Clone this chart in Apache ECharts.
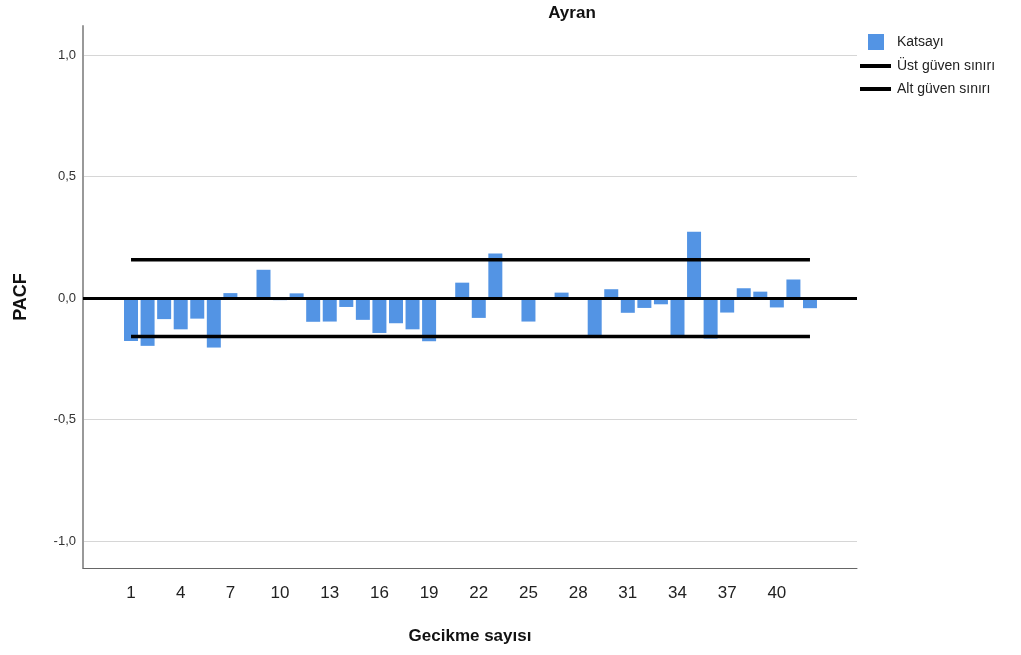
<!DOCTYPE html>
<html>
<head>
<meta charset="utf-8">
<title>Ayran</title>
<script src="https://cdn.jsdelivr.net/npm/echarts@6/dist/echarts.min.js"></script>
<style>
  html, body { margin: 0; padding: 0; background: #ffffff; }
  #chart { width: 1021px; height: 655px; }
</style>
</head>
<body>
<div id="chart"></div>
<script>
// Lag numbers (Gecikme sayısı)
const lags = [1,2,3,4,5,6,7,8,9,10,11,12,13,14,15,16,17,18,19,20,21,22,23,24,25,26,27,28,29,30,31,32,33,34,35,36,37,38,39,40,41,42];
// Partial autocorrelation coefficients (Katsayı)
const pacf = [-0.176,-0.196,-0.086,-0.128,-0.084,-0.203,0.021,0.003,0.117,-0.008,0.020,-0.097,-0.096,-0.036,-0.089,-0.143,-0.103,-0.128,-0.177,0.002,0.064,-0.081,0.184,0.003,-0.096,0.002,0.023,-0.003,-0.158,0.037,-0.060,-0.040,-0.025,-0.162,0.273,-0.166,-0.059,0.041,0.027,-0.038,0.077,-0.041];
// Confidence limits
const upperLimit = 0.158;
const lowerLimit = -0.158;
// Axis tick labels
const xTickValues = [1,4,7,10,13,16,19,22,25,28,31,34,37,40];
const yTickValues = [-1.0,-0.5,0.0,0.5,1.0];

const chart = echarts.init(document.getElementById('chart'));
const firstLag = lags[0];
const lastLag = lags[lags.length - 1];

chart.setOption({
  animation: false,
  backgroundColor: '#ffffff',
  textStyle: { fontFamily: 'Liberation Sans, Arial, sans-serif' },
  title: {
    text: 'Ayran',
    left: 567,
    top: 0,
    textAlign: 'center',
    textStyle: { fontSize: 17, fontWeight: 'bold', color: '#111', fontFamily: 'Liberation Sans, Arial, sans-serif' }
  },
  legend: [
    {
      data: [{ name: 'Katsayı', icon: 'rect' }],
      orient: 'vertical',
      left: 868,
      top: 34,
      padding: 0,
      itemWidth: 16,
      itemHeight: 16,
      textStyle: { fontSize: 14, color: '#222', padding: [0, 0, 0, 8] }
    },
    {
      data: [{ name: 'Üst güven sınırı', icon: 'rect' }, { name: 'Alt güven sınırı', icon: 'rect' }],
      orient: 'vertical',
      left: 860,
      top: 59,
      padding: 0,
      itemWidth: 31,
      itemHeight: 4,
      itemGap: 9,
      textStyle: { fontSize: 14, color: '#222', padding: [0, 0, 0, 1] }
    }
  ],
  grid: { left: 83, right: 164, top: 26, bottom: 87, containLabel: false },
  xAxis: {
    type: 'value',
    min: -1.9,
    max: 44.84,
    name: 'Gecikme sayısı',
    nameLocation: 'middle',
    nameGap: 60,
    nameTextStyle: { fontSize: 17, fontWeight: 'bold', color: '#111' },
    axisLine: { show: true, onZero: false, lineStyle: { color: '#666', width: 1 } },
    axisTick: { show: false, customValues: xTickValues },
    axisLabel: {
      customValues: xTickValues,
      margin: 17,
      fontSize: 17,
      color: '#222',
      fontFamily: 'Liberation Sans Narrow, Liberation Sans, Arial, sans-serif'
    },
    splitLine: { show: false }
  },
  yAxis: {
    type: 'value',
    min: -1.11,
    max: 1.12,
    name: 'PACF',
    nameLocation: 'middle',
    nameGap: 53,
    nameTextStyle: { fontSize: 18, fontWeight: 'bold', color: '#111' },
    axisLine: { show: true, onZero: false, lineStyle: { color: '#999', width: 2 } },
    axisTick: { show: false, customValues: yTickValues },
    axisLabel: {
      customValues: yTickValues,
      margin: 7,
      fontSize: 13,
      color: '#333',
      formatter: v => v.toFixed(1).replace('.', ',')
    },
    splitLine: { show: true, lineStyle: { color: '#d6d6d6', width: 1 } }
  },
  series: [
    {
      name: 'Katsayı',
      type: 'bar',
      data: lags.map((l, i) => [l, pacf[i]]),
      barWidth: 14,
      itemStyle: { color: '#5394e4' },
      markLine: {
        silent: true,
        symbol: 'none',
        label: { show: false },
        lineStyle: { color: '#000', width: 3, type: 'solid' },
        data: [{ yAxis: 0 }]
      }
    },
    {
      name: 'Üst güven sınırı',
      type: 'line',
      data: [[firstLag, upperLimit], [lastLag, upperLimit]],
      symbol: 'none',
      itemStyle: { color: '#000' },
      lineStyle: { color: '#000', width: 3.5 }
    },
    {
      name: 'Alt güven sınırı',
      type: 'line',
      data: [[firstLag, lowerLimit], [lastLag, lowerLimit]],
      symbol: 'none',
      itemStyle: { color: '#000' },
      lineStyle: { color: '#000', width: 3.5 }
    }
  ]
});
</script>
</body>
</html>
